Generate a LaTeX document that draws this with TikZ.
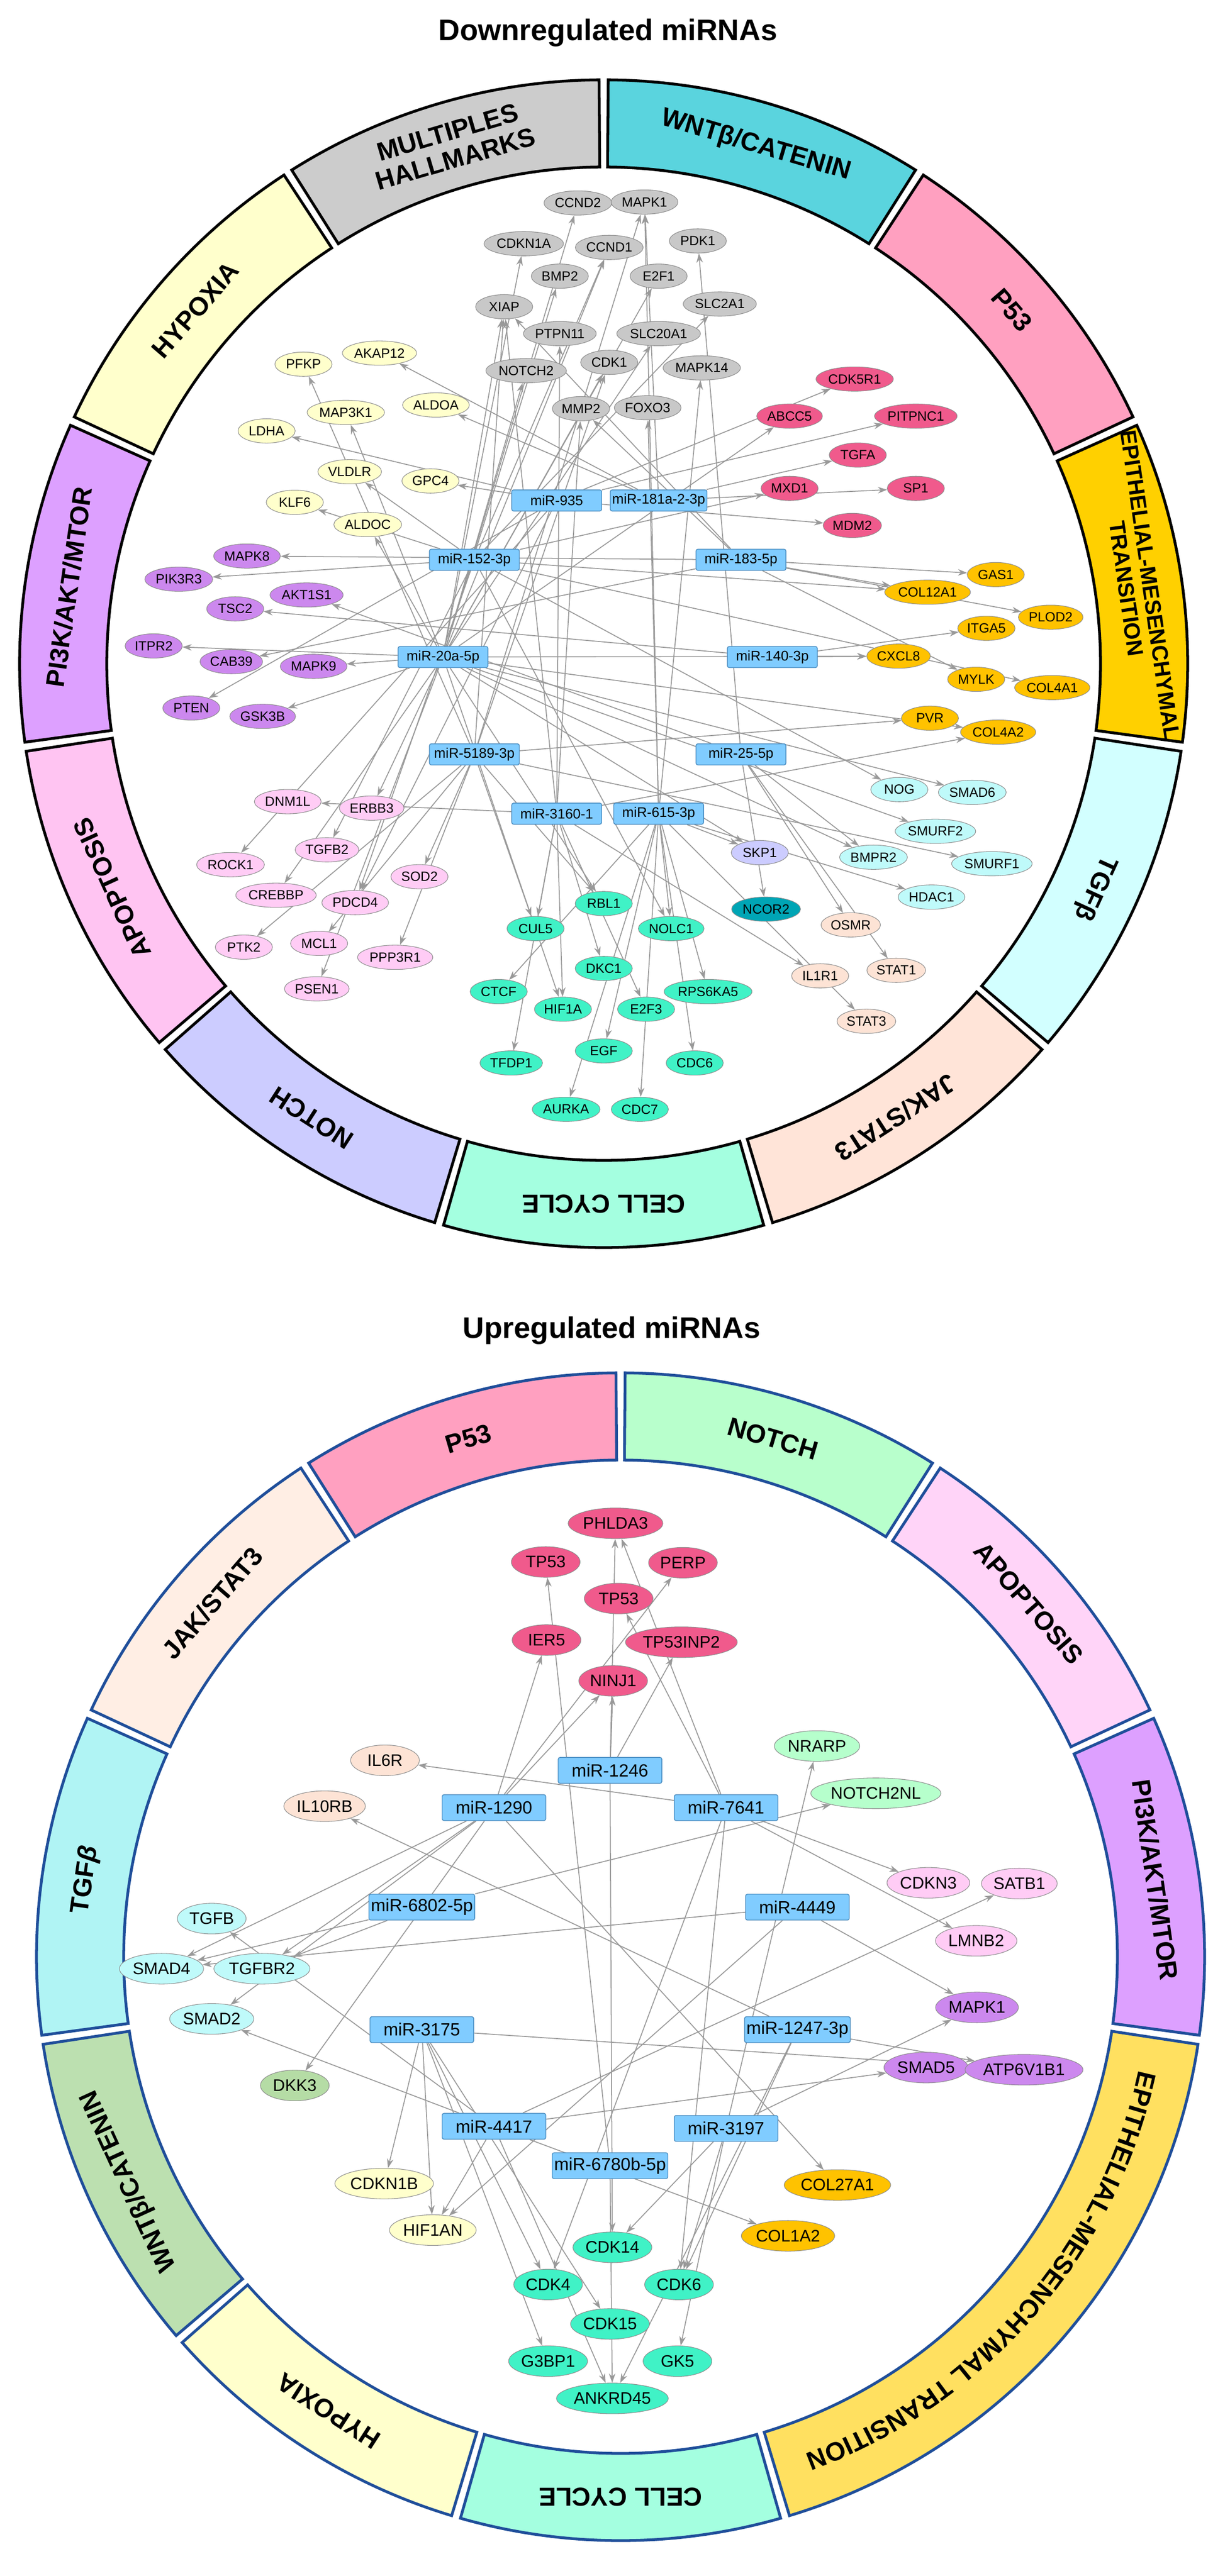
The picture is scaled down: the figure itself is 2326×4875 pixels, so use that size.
\documentclass[tikz,border=0pt]{standalone}
\usepackage{fontspec}
\setmainfont{Liberation Sans}
\usetikzlibrary{shapes.geometric,arrows.meta,decorations.text}
\pgfdeclarelayer{back}\pgfdeclarelayer{bg}\pgfsetlayers{back,bg,main}
\definecolor{mirb}{HTML}{80CCFF}\definecolor{mirbd}{HTML}{4A8CC0}
\definecolor{cGray}{HTML}{C8C8C8}\definecolor{cYel}{HTML}{FFFFCC}\definecolor{cPur}{HTML}{CC88EE}
\definecolor{cRed}{HTML}{F05A8C}\definecolor{cGold}{HTML}{FFC200}\definecolor{cCyan}{HTML}{BFFAFA}
\definecolor{cPeach}{HTML}{FDE3D5}\definecolor{cCell}{HTML}{40F2C6}\definecolor{cPink}{HTML}{FFCCF5}
\definecolor{cLav}{HTML}{CCCCFF}\definecolor{cTeal}{HTML}{00A5B5}\definecolor{cNotch}{HTML}{B6FFCC}
\definecolor{cWntG}{HTML}{B5DCA5}
\definecolor{rWnt}{HTML}{5AD4DE}\definecolor{rP53}{HTML}{FFA0C0}\definecolor{rEmt}{HTML}{FFD000}
\definecolor{rTgf}{HTML}{D2FFFF}\definecolor{rJak}{HTML}{FFE4D8}\definecolor{rCell}{HTML}{A4FFE0}
\definecolor{rNotch}{HTML}{CCCCFF}\definecolor{rApop}{HTML}{FFC4F2}\definecolor{rPi3k}{HTML}{DDA0FF}
\definecolor{rHyp}{HTML}{FFFFCC}\definecolor{rMult}{HTML}{CCCCCC}
\definecolor{bNotch}{HTML}{B8FFCC}\definecolor{bApop}{HTML}{FFD4F8}\definecolor{bEmt}{HTML}{FFE060}
\definecolor{bWnt}{HTML}{BCE0B0}\definecolor{bTgf}{HTML}{B0F4F4}\definecolor{bJak}{HTML}{FFEEE4}
\definecolor{bBord}{HTML}{1F4E9A}
\newcommand\ringseg[6][]{%
 \pgfmathsetmacro\rsA{#2-0.45}\pgfmathsetmacro\rsB{#3+0.45}\pgfmathsetmacro\rsM{(#2+#3)/2}%
 \filldraw[fill=#4,draw=#5,line width=1.5pt] (\rsA:1105) arc[start angle=\rsA,end angle=\rsB,radius=1105] -- (\rsB:940) arc[start angle=\rsB,end angle=\rsA,radius=940] -- cycle;%
 \node[ringlab,rotate=\rsM-90,#1] at (\rsM:1022) {#6};}
\tikzset{
 ringlab/.style={font=\fontsize{14}{15}\selectfont\bfseries,align=center,inner sep=0pt},
 small/.style={font=\fontsize{12}{13}\selectfont\bfseries},
 tn/.style={ellipse,draw=black!45,line width=0.3pt,minimum width=1.08cm,minimum height=0.46cm,inner sep=0.5pt,font=\fontsize{7.2}{8}\selectfont},
 mir/.style={rectangle,rounded corners=1pt,fill=mirb,draw=mirbd,line width=0.4pt,minimum width=1.7cm,minimum height=0.4cm,inner sep=1pt,font=\fontsize{7.5}{8}\selectfont},
 bn/.style={ellipse,draw=black!45,line width=0.3pt,minimum width=1.3cm,minimum height=0.58cm,inner sep=0.5pt,font=\fontsize{9}{10}\selectfont},
 bmir/.style={rectangle,rounded corners=1pt,fill=mirb,draw=mirbd,line width=0.4pt,minimum width=1.96cm,minimum height=0.49cm,inner sep=1pt,font=\fontsize{9.5}{10}\selectfont},
 edge/.style={draw=black!40,line width=0.5pt,-{Stealth[length=5pt,width=3.5pt]}},
 ttl/.style={font=\fontsize{16}{18}\selectfont\bfseries}
}
\begin{document}
\begin{tikzpicture}[x=0.01cm,y=-0.01cm]
\useasboundingbox (0,0) rectangle (2326,4875);
\begin{pgfonlayer}{back}\fill[white] (0,0) rectangle (2326,4875);\end{pgfonlayer}
\node[ttl] at (1150,62) {Downregulated miRNAs};
\node[ttl] at (1157,2518) {Upregulated miRNAs};
% top ring
\begin{scope}[shift={(1142,1256)},yscale=-1]
\ringseg{90}{57.27}{rWnt}{black}{WNTβ/CATENIN}
\ringseg{57.27}{24.55}{rP53}{black}{P53}
\ringseg[small]{24.55}{-8.18}{rEmt}{black}{EPITHELIAL-MESENCHYMAL\\TRANSITION}
\ringseg{-8.18}{-40.91}{rTgf}{black}{TGFβ}
\ringseg{-40.91}{-73.64}{rJak}{black}{JAK/STAT3}
\ringseg{-73.64}{-106.36}{rCell}{black}{CELL CYCLE}
\ringseg{-106.36}{-139.09}{rNotch}{black}{NOTCH}
\ringseg{-139.09}{-171.82}{rApop}{black}{APOPTOSIS}
\ringseg{-171.82}{-204.55}{rPi3k}{black}{PI3K/AKT/MTOR}
\ringseg{-204.55}{-237.27}{rHyp}{black}{HYPOXIA}
\ringseg{-237.27}{-270}{rMult}{black}{MULTIPLES\\HALLMARKS}
\end{scope}
% bottom ring
\begin{scope}[shift={(1174,3703)},yscale=-1]
\ringseg{90}{57.27}{bNotch}{bBord}{NOTCH}
\ringseg{57.27}{24.55}{bApop}{bBord}{APOPTOSIS}
\ringseg{24.55}{-8.18}{rPi3k}{bBord}{PI3K/AKT/MTOR}
\ringseg{-8.18}{-73.64}{bEmt}{bBord}{}
\ringseg{-73.64}{-106.36}{rCell}{bBord}{CELL CYCLE}
\ringseg{-106.36}{-139.09}{rHyp}{bBord}{HYPOXIA}
\ringseg{-139.09}{-171.82}{bWnt}{bBord}{WNTβ/CATENIN}
\ringseg{-171.82}{-204.55}{bTgf}{bBord}{TGF\itshape β}
\ringseg{-204.55}{-237.27}{bJak}{bBord}{JAK/STAT3}
\ringseg{-237.27}{-270}{rP53}{bBord}{P53}
\end{scope}
\path[decorate,decoration={text along path,text align=center,text={|\fontsize{14}{15}\selectfont\bfseries|EPITHELIAL-MESENCHYMAL TRANSITION}}]
  (1174,3703) ++(8:1004) arc[start angle=8,end angle=74,radius=1004];
% ---------- top network ----------
\begin{scope}[xscale=1.4834,yscale=1.7538]
\foreach \n/\x/\y in {CCND2/737/219,MAPK1/822/218,CDKN1A/668/263,CCND1/777/267,PDK1/890/260,BMP2/714/298,E2F1/840/298,XIAP/643/331,SLC2A1/918/328,PTPN11/714/360,SLC20A1/840/360,NOTCH2/671/400,CDK1/777/391,MAPK14/895/397,MMP2/741/441,FOXO3/826/440}
  \node[tn,fill=cGray] (\n) at (\x,\y) {\n};
\foreach \n/\x/\y in {PFKP/387/393,AKAP12/484/381,MAP3K1/441/445,ALDOA/556/437,LDHA/340/465,VLDLR/446/509,GPC4/549/519,KLF6/376/542,ALDOC/469/566}
  \node[tn,fill=cYel] (\n) at (\x,\y) {\n};
\foreach \n/\x/\y in {CDK5R1/1090/409,ABCC5/1007/449,PITPNC1/1168/449,TGFA/1094/491,MXD1/1007/527,SP1/1168/527,MDM2/1087/567}
  \node[tn,fill=cRed] (\n) at (\x,\y) {\n};
\foreach \n/\x/\y in {GAS1/1270/620,COL12A1/1183/639,PLOD2/1340/666,ITGA5/1258/678,CXCL8/1146/708,MYLK/1245/733,COL4A1/1342/742,PVR/1186/775,COL4A2/1273/790}
  \node[tn,fill=cGold] (\n) at (\x,\y) {\n};
\foreach \n/\x/\y in {MAPK8/315/600,PIK3R3/228/625,AKT1S1/391/642,TSC2/300/657,ITPR2/196/697,CAB39/295/714,MAPK9/400/719,PTEN/244/764,GSK3B/335/773}
  \node[tn,fill=cPur] (\n) at (\x,\y) {\n};
\foreach \n/\x/\y in {NOG/1147/852,SMAD6/1240/855,SMURF2/1193/897,BMPR2/1114/925,SMURF1/1265/932,HDAC1/1188/968}
  \node[tn,fill=cCyan] (\n) at (\x,\y) {\n};
\node[tn,fill=cLav] (SKP1) at (969,920) {SKP1};
\node[tn,fill=cTeal] (NCOR2) at (977,981) {NCOR2};
\foreach \n/\x/\y in {OSMR/1085/998,STAT1/1143/1047,IL1R1/1046/1053,STAT3/1105/1102}
  \node[tn,fill=cPeach] (\n) at (\x,\y) {\n};
\foreach \n/\x/\y in {DNM1L/367/865,ERBB3/474/872,ROCK1/294/933,TGFB2/417/917,SOD2/535/946,CREBBP/352/966,PDCD4/453/974,PTK2/311/1022,MCL1/407/1018,PPP3R1/504/1033,PSEN1/404/1067}
  \node[tn,fill=cPink] (\n) at (\x,\y) {\n};
\foreach \n/\x/\y in {RBL1/770/975,CUL5/683/1002,NOLC1/856/1002,DKC1/770/1045,CTCF/636/1070,HIF1A/718/1089,E2F3/824/1089,RPS6KA5/903/1070,TFDP1/652/1147,EGF/770/1134,CDC6/886/1147,AURKA/722/1197,CDC7/816/1197}
  \node[tn,fill=cCell] (\n) at (\x,\y) {\n};
\node[mir] (m935) at (710,540) {miR-935};
\node[mir] (m181) at (840,540) {miR-181a-2-3p};
\node[mir] (m152) at (605,604) {miR-152-3p};
\node[mir] (m183) at (945,604) {miR-183-5p};
\node[mir] (m20a) at (565,709) {miR-20a-5p};
\node[mir] (m140) at (985,709) {miR-140-3p};
\node[mir] (m5189) at (605,814) {miR-5189-3p};
\node[mir] (m25) at (945,814) {miR-25-5p};
\node[mir] (m3160) at (710,878) {miR-3160-1};
\node[mir] (m615) at (840,878) {miR-615-3p};
\end{scope}
\begin{pgfonlayer}{bg}
\foreach \a/\b in {m20a/CCND2,m5189/MAPK1,m181/MAPK1,m615/MAPK1,m20a/CDKN1A,m20a/CCND1,m152/CCND1,m25/PDK1,m20a/BMP2,m20a/E2F1,m20a/XIAP,m5189/XIAP,m3160/XIAP,m183/XIAP,m152/SLC2A1,m3160/PTPN11,m20a/SLC20A1,m20a/NOTCH2,m20a/CDK1,m5189/CDK1,m615/MAPK14,m3160/MMP2,m183/MMP2,m615/FOXO3,m181/AKAP12,m20a/MAP3K1,m5189/PFKP,m181/ALDOA,m935/LDHA,m935/GPC4,m152/VLDLR,m152/KLF6,m20a/ALDOC,m20a/ABCC5,m935/CDK5R1,m935/PITPNC1,m181/TGFA,m152/MXD1,m935/MDM2,m181/SP1,m183/GAS1,m183/COL12A1,m152/COL12A1,m183/PLOD2,m140/ITGA5,m20a/CXCL8,m140/CXCL8,m183/MYLK,m152/COL4A1,m5189/PVR,m20a/COL4A2,m3160/COL4A2,m183/MAPK8,m152/PIK3R3,m25/AKT1S1,m140/TSC2,m20a/ITPR2,m183/CAB39,m20a/MAPK9,m935/PTEN,m20a/GSK3B,m152/NOG,m20a/SMAD6,m20a/SMURF2,m25/BMPR2,m20a/BMPR2,m5189/SMURF1,m615/HDAC1,m20a/SKP1,m615/SKP1,m25/NCOR2,m25/OSMR,m25/STAT1,m3160/IL1R1,m615/STAT3,m3160/DNM1L,m20a/ERBB3,m935/ROCK1,m152/TGFB2,m5189/SOD2,m20a/CREBBP,m935/PDCD4,m152/PDCD4,m5189/PTK2,m5189/MCL1,m5189/PPP3R1,m20a/PSEN1,m5189/RBL1,m20a/RBL1,m3160/CUL5,m5189/CUL5,m615/NOLC1,m152/NOLC1,m3160/DKC1,m615/CTCF,m3160/HIF1A,m20a/HIF1A,m3160/E2F3,m615/RPS6KA5,m3160/TFDP1,m615/EGF,m615/CDC6,m615/AURKA,m615/CDC7}
  \draw[edge] (\a) -- (\b);
\end{pgfonlayer}
% ---------- bottom network ----------
\begin{scope}[shift={(0,2750)},xscale=1.4834,yscale=1.3552]
\node[bn,fill=cRed] (PHLDA3) at (785,98) {PHLDA3};
\node[bn,fill=cRed] (bTP53) at (696,152) {TP53};
\node[bn,fill=cRed] (PERP) at (871,153) {PERP};
\node[bn,fill=cRed] (bTP53b) at (789,203) {TP53};
\node[bn,fill=cRed] (IER5) at (697,261) {IER5};
\node[bn,fill=cRed] (TP53INP2) at (869,264) {TP53INP2};
\node[bn,fill=cRed] (NINJ1) at (782,318) {NINJ1};
\node[bn,fill=cNotch] (NRARP) at (1042,409) {NRARP};
\node[bn,fill=cNotch] (NOTCH2NL) at (1117,475) {NOTCH2NL};
\node[bn,fill=cPeach] (IL6R) at (491,429) {IL6R};
\node[bn,fill=cPeach] (IL10RB) at (414,493) {IL10RB};
\node[bn,fill=cPink] (CDKN3) at (1184,600) {CDKN3};
\node[bn,fill=cPink] (SATB1) at (1300,601) {SATB1};
\node[bn,fill=cPink] (LMNB2) at (1245,681) {LMNB2};
\node[bn,fill=cPur] (bMAPK1) at (1246,774) {MAPK1};
\node[bn,fill=cPur] (SMAD5) at (1181,858) {SMAD5};
\node[bn,fill=cPur] (ATP6V1B1) at (1306,861) {ATP6V1B1};
\node[bn,fill=cCyan] (TGFB) at (270,650) {TGFB};
\node[bn,fill=cCyan] (SMAD4) at (206,720) {SMAD4};
\node[bn,fill=cCyan] (TGFBR2) at (334,720) {TGFBR2};
\node[bn,fill=cCyan] (SMAD2) at (270,790) {SMAD2};
\node[bn,fill=cWntG] (DKK3) at (376,883) {DKK3};
\node[bn,fill=cYel] (CDKN1B) at (490,1020) {CDKN1B};
\node[bn,fill=cYel] (HIF1AN) at (552,1085) {HIF1AN};
\node[bn,fill=cGold] (COL27A1) at (1068,1022) {COL27A1};
\node[bn,fill=cGold] (COL1A2) at (1005,1093) {COL1A2};
\foreach \n/\x/\y in {CDK14/781/1109,CDK4/699/1161,CDK6/866/1161,CDK15/778/1216,G3BP1/699/1268,GK5/864/1268,ANKRD45/781/1320}
  \node[bn,fill=cCell] (\n) at (\x,\y) {\n};
\node[bmir] (b1246) at (778,443) {miR-1246};
\node[bmir] (b1290) at (630,495) {miR-1290};
\node[bmir] (b7641) at (926,495) {miR-7641};
\node[bmir] (b6802) at (538,634) {miR-6802-5p};
\node[bmir] (b4449) at (1017,634) {miR-4449};
\node[bmir] (b3175) at (538,805) {miR-3175};
\node[bmir] (b1247) at (1017,805) {miR-1247-3p};
\node[bmir] (b4417) at (630,940) {miR-4417};
\node[bmir] (b3197) at (926,943) {miR-3197};
\node[bmir] (b6780) at (778,995) {miR-6780b-5p};
\end{scope}
\begin{pgfonlayer}{bg}
\foreach \a/\b in {b1246/PHLDA3,b7641/PHLDA3,b6780/bTP53,b1290/PERP,b7641/bTP53b,b1290/IER5,b1246/TP53INP2,b1290/NINJ1,b1246/NINJ1,b3197/NRARP,b7641/IL6R,b1247/IL10RB,b6802/NOTCH2NL,b7641/CDKN3,b4417/SATB1,b7641/LMNB2,b4449/bMAPK1,b3197/bMAPK1,b4417/SMAD5,b3175/ATP6V1B1,b1247/ATP6V1B1,b4417/TGFB,b1290/SMAD4,b6802/SMAD4,b4449/SMAD4,b1290/TGFBR2,b6802/TGFBR2,b1290/SMAD2,b4417/SMAD2,b1290/DKK3,b3175/CDKN1B,b3175/HIF1AN,b4417/HIF1AN,b4449/HIF1AN,b1290/COL27A1,b4417/COL1A2,b1246/CDK14,b3197/CDK14,b3175/CDK4,b7641/CDK4,b7641/CDK6,b3197/CDK6,b1247/CDK6,b3175/CDK15,b3175/G3BP1,b3197/GK5,b4417/ANKRD45,b6780/ANKRD45,b1247/ANKRD45}
  \draw[edge] (\a) -- (\b);
\end{pgfonlayer}
\end{tikzpicture}
\end{document}
